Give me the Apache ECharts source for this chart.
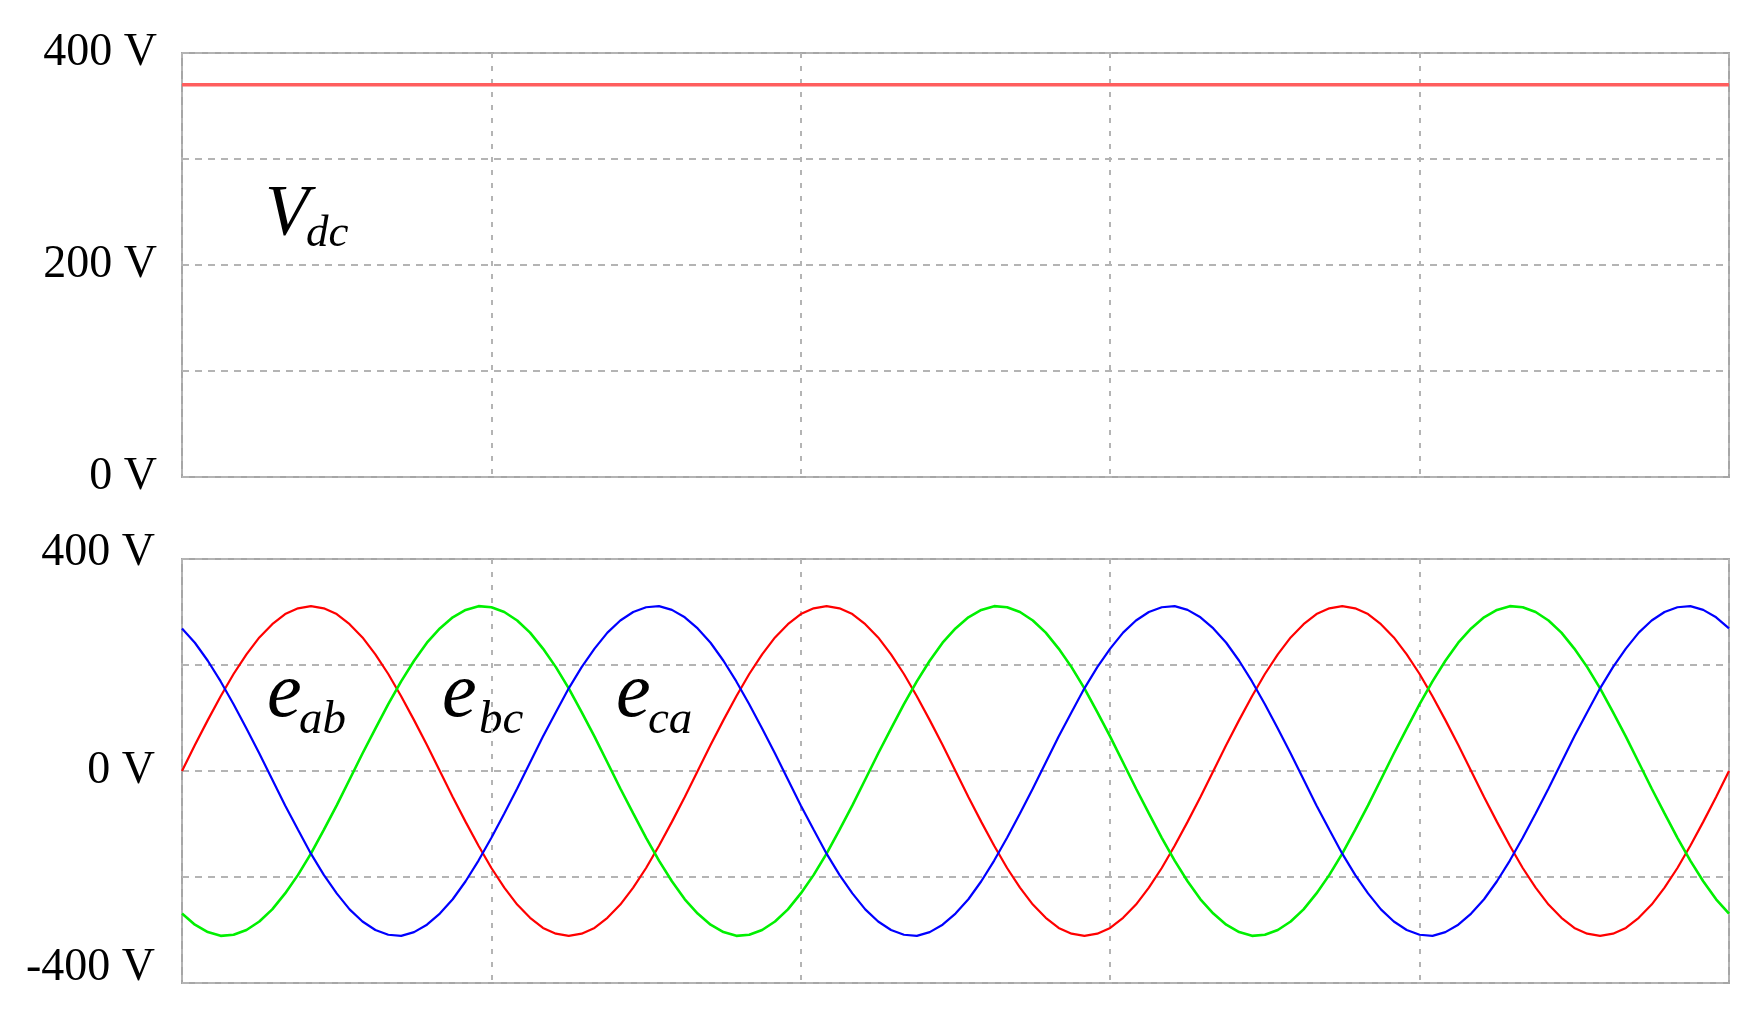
<!DOCTYPE html>
<html>
<head>
<meta charset="utf-8">
<script src="https://cdn.jsdelivr.net/npm/echarts@6/dist/echarts.min.js"></script>
<style>
html, body { margin: 0; padding: 0; background: #fff; }
#main { width: 1752px; height: 1017px; }
</style>
</head>
<body>
<div id="main"></div>
<script>
// time in ms, 0.5 ms steps (3 periods of 50 Hz)
var timeMs = [0,0.5,1,1.5,2,2.5,3,3.5,4,4.5,5,5.5,6,6.5,7,7.5,8,8.5,9,9.5,
	10,10.5,11,11.5,12,12.5,13,13.5,14,14.5,15,15.5,16,16.5,17,17.5,18,18.5,19,19.5,
	20,20.5,21,21.5,22,22.5,23,23.5,24,24.5,25,25.5,26,26.5,27,27.5,28,28.5,29,29.5,
	30,30.5,31,31.5,32,32.5,33,33.5,34,34.5,35,35.5,36,36.5,37,37.5,38,38.5,39,39.5,
	40,40.5,41,41.5,42,42.5,43,43.5,44,44.5,45,45.5,46,46.5,47,47.5,48,48.5,49,49.5,
	50,50.5,51,51.5,52,52.5,53,53.5,54,54.5,55,55.5,56,56.5,57,57.5,58,58.5,59,59.5,60];

// DC link voltage
var vdcTime = [0, 60];
var vdc = [370, 370];

// line voltages (V)
var eab = [0,49,96,141,183,220,252,277,296,307,311,307,296,277,252,220,183,141,96,49,
	0,-49,-96,-141,-183,-220,-252,-277,-296,-307,-311,-307,-296,-277,-252,-220,-183,-141,-96,-49,
	0,49,96,141,183,220,252,277,296,307,311,307,296,277,252,220,183,141,96,49,
	0,-49,-96,-141,-183,-220,-252,-277,-296,-307,-311,-307,-296,-277,-252,-220,-183,-141,-96,-49,
	0,49,96,141,183,220,252,277,296,307,311,307,296,277,252,220,183,141,96,49,
	0,-49,-96,-141,-183,-220,-252,-277,-296,-307,-311,-307,-296,-277,-252,-220,-183,-141,-96,-49,0];
var ebc = [-269,-290,-304,-311,-309,-300,-284,-261,-231,-196,-156,-111,-65,-16,33,80,126,169,208,242,
	269,290,304,311,309,300,284,261,231,196,156,111,65,16,-33,-80,-126,-169,-208,-242,
	-269,-290,-304,-311,-309,-300,-284,-261,-231,-196,-156,-111,-65,-16,33,80,126,169,208,242,
	269,290,304,311,309,300,284,261,231,196,156,111,65,16,-33,-80,-126,-169,-208,-242,
	-269,-290,-304,-311,-309,-300,-284,-261,-231,-196,-156,-111,-65,-16,33,80,126,169,208,242,
	269,290,304,311,309,300,284,261,231,196,156,111,65,16,-33,-80,-126,-169,-208,-242,-269];
var eca = [269,242,208,169,126,80,33,-16,-65,-111,-156,-196,-231,-261,-284,-300,-309,-311,-304,-290,
	-269,-242,-208,-169,-126,-80,-33,16,65,111,156,196,231,261,284,300,309,311,304,290,
	269,242,208,169,126,80,33,-16,-65,-111,-156,-196,-231,-261,-284,-300,-309,-311,-304,-290,
	-269,-242,-208,-169,-126,-80,-33,16,65,111,156,196,231,261,284,300,309,311,304,290,
	269,242,208,169,126,80,33,-16,-65,-111,-156,-196,-231,-261,-284,-300,-309,-311,-304,-290,
	-269,-242,-208,-169,-126,-80,-33,16,65,111,156,196,231,261,284,300,309,311,304,290,269];

var topTicks = [0, 200, 400];
var bottomTicks = [-400, 0, 400];

function pairs(xs, ys) {
	var out = [];
	for (var i = 0; i < xs.length; i++) {
		out.push([xs[i], ys[i]]);
	}
	return out;
}

var serif = '"Liberation Serif", "Times New Roman", serif';
var hGrid = { show : true, lineStyle : { color : '#b4b4b4', width : 2, type : [7, 6] } };
var vGrid = { show : true, lineStyle : { color : '#b4b4b4', width : 2, type : [5, 8] } };

// label text: main letter + subscript
function mathLabel(x, y, main, sub, mainSize, subSize, subDx, subDy) {
	return [
		{ type : 'text', left : x, top : y, style : { text : main, fontFamily : serif, fontStyle : 'italic', fontSize : mainSize, fill : '#000' } },
		{ type : 'text', left : x + subDx, top : y + subDy, style : { text : sub, fontFamily : serif, fontStyle : 'italic', fontSize : subSize, fill : '#000' } }
	];
}

var myChart = echarts.init(document.getElementById('main'));

var option = {
	backgroundColor : '#ffffff',
	animation : false,
	grid : [
		{ left : 182, right : 23, top : 53, height : 424, show : true, borderColor : '#a6a6a6', borderWidth : 2, backgroundColor : 'transparent' },
		{ left : 182, right : 23, top : 559, height : 424, show : true, borderColor : '#a6a6a6', borderWidth : 2, backgroundColor : 'transparent' }
	],
	xAxis : [
		{ gridIndex : 0, type : 'value', min : 0, max : 60, interval : 12,
			axisLine : { show : false }, axisTick : { show : false }, axisLabel : { show : false }, splitLine : vGrid },
		{ gridIndex : 1, type : 'value', min : 0, max : 60, interval : 12,
			axisLine : { show : false }, axisTick : { show : false }, axisLabel : { show : false }, splitLine : vGrid }
	],
	yAxis : [
		{ gridIndex : 0, type : 'value', min : 0, max : 400, interval : 100,
			axisLine : { show : false }, axisTick : { show : false }, splitLine : hGrid,
			axisLabel : {
				margin : 25, fontFamily : serif, fontSize : 46, color : '#000',
				formatter : function(v) { return topTicks.indexOf(v) >= 0 ? v + ' V' : ''; }
			}
		},
		{ gridIndex : 1, type : 'value', min : -400, max : 400, interval : 200,
			axisLine : { show : false }, axisTick : { show : false }, splitLine : hGrid,
			axisLabel : {
				margin : 27, fontFamily : serif, fontSize : 46, color : '#000',
				formatter : function(v) {
					if (bottomTicks.indexOf(v) < 0) return '';
					if (v < 0) return '{lo|' + v + ' V}';
					if (v > 0) return '{hi|' + v + ' V}';
					return v + ' V';
				},
				rich : {
					lo : { fontFamily : serif, fontSize : 46, color : '#000', padding : [0, 0, 30, 0] },
					hi : { fontFamily : serif, fontSize : 46, color : '#000', padding : [0, 0, 12, 0] }
				}
			}
		}
	],
	series : [
		{ name : 'Vdc', type : 'line', xAxisIndex : 0, yAxisIndex : 0, showSymbol : false,
			lineStyle : { color : '#ff5e5e', width : 3.5 }, data : pairs(vdcTime, vdc) },
		{ name : 'eab', type : 'line', xAxisIndex : 1, yAxisIndex : 1, showSymbol : false,
			lineStyle : { color : '#ff0000', width : 2.2 }, data : pairs(timeMs, eab) },
		{ name : 'ebc', type : 'line', xAxisIndex : 1, yAxisIndex : 1, showSymbol : false,
			lineStyle : { color : '#00f000', width : 2.6 }, data : pairs(timeMs, ebc) },
		{ name : 'eca', type : 'line', xAxisIndex : 1, yAxisIndex : 1, showSymbol : false,
			lineStyle : { color : '#0000ff', width : 2.2 }, data : pairs(timeMs, eca) }
	],
	graphic : [].concat(
		mathLabel(265, 179, 'V', 'dc', 72, 45, 41, 33),
		mathLabel(267, 656, 'e', 'ab', 78, 47, 32, 41),
		mathLabel(442, 656, 'e', 'bc', 78, 47, 37, 41),
		mathLabel(616, 656, 'e', 'ca', 78, 47, 32, 41)
	)
};

myChart.setOption(option);
</script>
</body>
</html>
